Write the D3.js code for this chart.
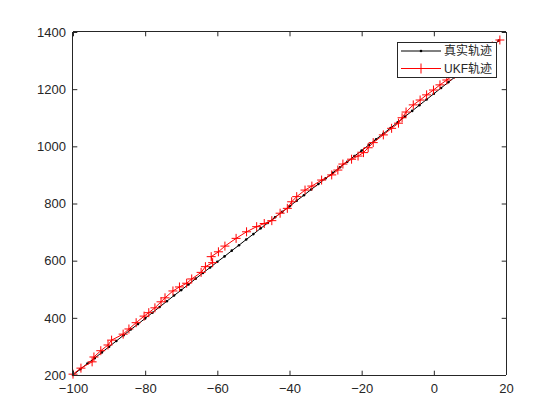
<!DOCTYPE html>
<html><head><meta charset="utf-8">
<script src="https://cdn.jsdelivr.net/npm/d3@7/dist/d3.min.js"></script>
<style>html,body{margin:0;padding:0;background:#fff}</style>
</head><body>
<svg id="c" width="560" height="420"></svg>
<script>
const xTicks = [-100, -80, -60, -40, -20, 0, 20];
const yTicks = [200, 400, 600, 800, 1000, 1200, 1400];
const seriesNames = ["真实轨迹", "UKF轨迹"];

const trueX = [-100,-98,-96,-94,-92,-90,-88,-86,-84,-82,-80,-78,-76,-74,-72,-70,-68,-66,-64,-62,-60,-58,-56,-54,-52,-50,-48,-46,-44,-42,-40,-38,-36,-34,-32,-30,-28,-26,-24,-22,-20,-18,-16,-14,-12,-10,-8,-6,-4,-2,0,2,4,6,8,10,12,14,16,18];
const trueY = [200,220,240,259,279,299,319,339,359,378,398,418,438,458,478,497,517,537,557,576,596,615,635,654,674,693,713,732,752,771,790,810,829,849,868,888,907,927,946,966,985,1005,1025,1044,1064,1084,1104,1124,1144,1164,1184,1204,1224,1244,1265,1286,1307,1328,1349,1370];

const ukfX = [-100,-97.8,-94.7,-94.2,-92.3,-90.3,-89.3,-86.1,-84.5,-82.5,-80.3,-79.0,-77.3,-75.6,-74.5,-72.3,-70.5,-68.5,-67.1,-64.5,-63.3,-61.3,-61.7,-59.7,-57.9,-54.8,-51.9,-49.1,-47.0,-44.9,-42.6,-40.6,-39.4,-38.0,-35.7,-33.8,-31.1,-28.3,-26.6,-25.2,-22.8,-21.0,-19.5,-18.2,-16.8,-14.0,-11.7,-9.8,-8.8,-7.7,-5.7,-3.8,-2.0,-0.1,1.7,3.6,5.7,7.8,9.9,12.0,14.1,16.2,18.3];
const ukfY = [203,224,246,263,285,305,322,343,361,383,406,418,435,456,470,494,508,521,536,559,579,593,614,631,651,678,701,719,730,740,766,783,806,824,847,861,882,900,917,938,955,966,978,995,1013,1040,1063,1081,1100,1120,1145,1162,1180,1197,1215,1232,1252,1272,1292,1311,1331,1351,1372];

const svg = d3.select("#c");
const L = 73, R = 506, T = 32, B = 375;
const x = d3.scaleLinear().domain([-100, 20]).range([L, R]);
const y = d3.scaleLinear().domain([200, 1400]).range([B, T]);
const axisColor = "#262626";
const font = "'Liberation Sans', Arial, Helvetica, sans-serif";

const trueData = trueX.map((v, i) => [v, trueY[i]]);
const ukfData = ukfX.map((v, i) => [v, ukfY[i]]);
const line = d3.line().x(d => x(d[0])).y(d => y(d[1]));

svg.append("path").attr("d", line(trueData)).attr("fill", "none").attr("stroke", "#000").attr("stroke-width", 1);
svg.append("g").selectAll("circle").data(trueData).join("circle")
  .attr("cx", d => x(d[0])).attr("cy", d => y(d[1])).attr("r", 1.3).attr("fill", "#000");

svg.append("path").attr("d", line(ukfData)).attr("fill", "none").attr("stroke", "#ff0000").attr("stroke-width", 1);
const plusPath = (cx, cy, s) => `M${cx - s},${cy}H${cx + s}M${cx},${cy - s}V${cy + s}`;
svg.append("g").selectAll("path").data(ukfData).join("path")
  .attr("d", d => plusPath(x(d[0]), y(d[1]), 4.5))
  .attr("stroke", "#ff0000").attr("stroke-width", 1).attr("fill", "none");

const xAxisB = d3.axisBottom(x).tickValues(xTicks).tickSize(-4.3).tickPadding(9).tickFormat(d3.format("d"));
const xAxisT = d3.axisTop(x).tickValues(xTicks).tickSize(-4.3).tickFormat("");
const yAxisL = d3.axisLeft(y).tickValues(yTicks).tickSize(-4.3).tickPadding(7).tickFormat(d3.format("d"));
const yAxisR = d3.axisRight(y).tickValues(yTicks).tickSize(-4.3).tickFormat("");

function style(g) {
  g.select(".domain").attr("stroke", axisColor).attr("stroke-width", 1);
  g.selectAll(".tick line").attr("stroke", axisColor).attr("stroke-width", 1);
  g.selectAll(".tick text").attr("fill", axisColor).attr("font-size", "13px").attr("font-family", font);
}
svg.append("g").attr("transform", `translate(0,${B})`).call(xAxisB).call(style)
  .call(g => g.select(".domain").attr("d", `M${L},0.5H${R}`));
svg.append("g").attr("transform", `translate(0,${T})`).call(xAxisT).call(style)
  .call(g => g.select(".domain").attr("d", `M${L},-0.5H${R}`));
svg.append("g").attr("transform", `translate(${L},0)`).call(yAxisL).call(style)
  .call(g => g.select(".domain").attr("d", `M-0.5,${T}V${B}`));
svg.append("g").attr("transform", `translate(${R},0)`).call(yAxisR).call(style)
  .call(g => g.select(".domain").attr("d", `M0.5,${T}V${B}`));

const lg = svg.append("g");
lg.append("rect").attr("x", 397.5).attr("y", 42.5).attr("width", 99).attr("height", 35)
  .attr("fill", "#fff").attr("stroke", axisColor).attr("stroke-width", 1);
const rows = [
  {name: seriesNames[0], color: "#000", y: 51, marker: "dot"},
  {name: seriesNames[1], color: "#ff0000", y: 68.5, marker: "plus"}
];
rows.forEach(r => {
  lg.append("line").attr("x1", 401).attr("x2", 441).attr("y1", r.y).attr("y2", r.y)
    .attr("stroke", r.color).attr("stroke-width", 1);
  if (r.marker === "dot") {
    lg.append("circle").attr("cx", 421).attr("cy", r.y).attr("r", 1.3).attr("fill", r.color);
  } else {
    lg.append("path").attr("d", plusPath(421, r.y, 5)).attr("stroke", r.color).attr("stroke-width", 1);
  }
  lg.append("text").attr("x", 444).attr("y", r.y).attr("dy", "0.36em")
    .attr("font-size", "12px").attr("fill", axisColor)
    .attr("font-family", "'Liberation Sans', Arial, 'Noto Sans CJK SC', sans-serif")
    .text(r.name);
});
</script>
</body></html>
